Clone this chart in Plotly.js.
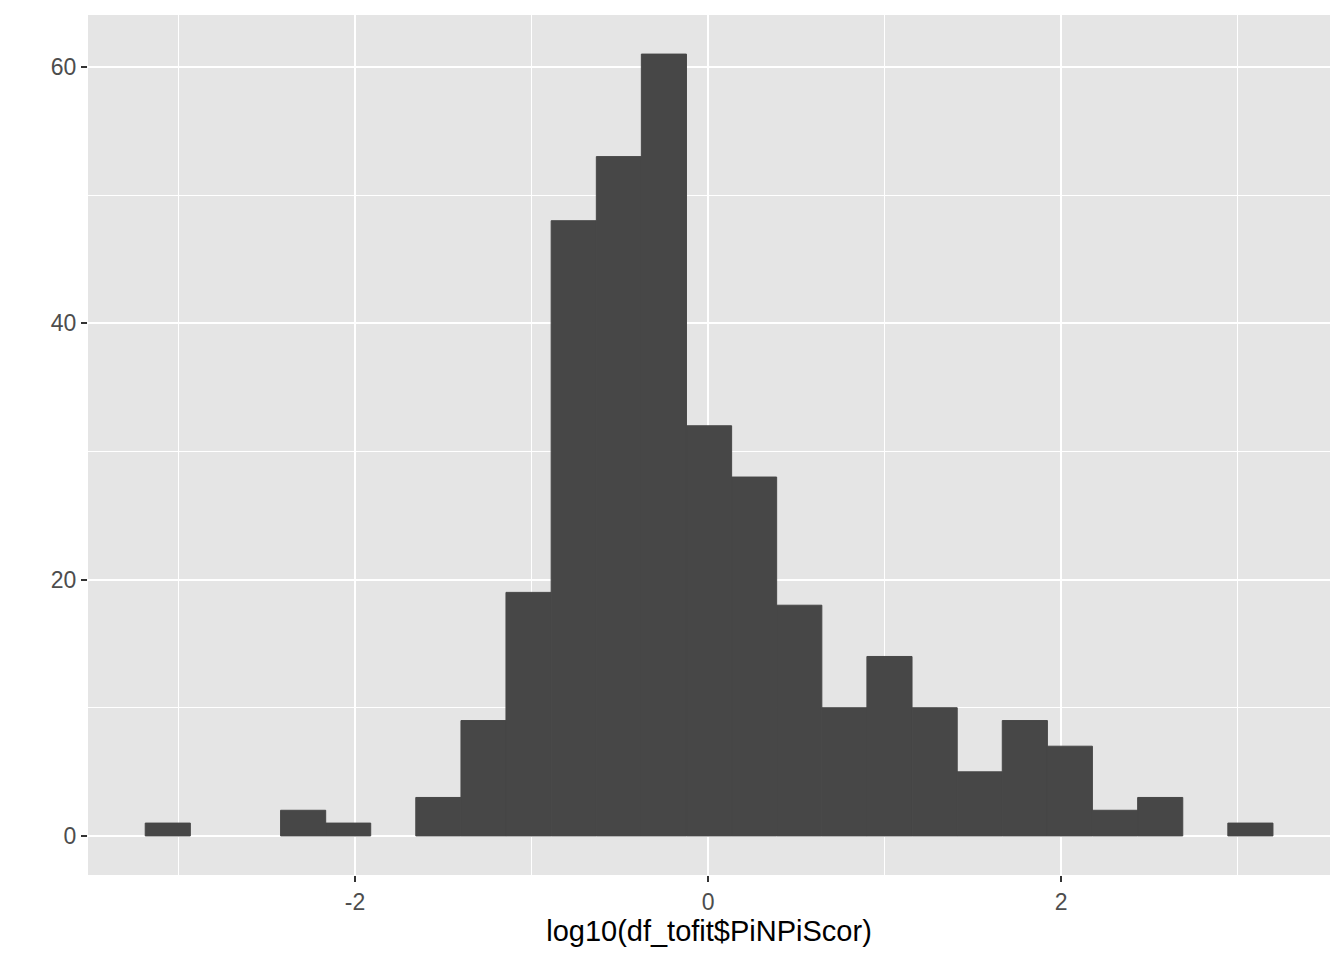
<!DOCTYPE html>
<html>
<head>
<meta charset="utf-8">
<script src="https://cdn.plot.ly/plotly-3.0.1.min.js"></script>
<style>html,body{margin:0;padding:0;background:#fff;}#chart{width:1344px;height:960px;}</style>
</head>
<body>
<div id="chart"></div>
<script>
const binCenters = [-3.061, -2.806, -2.550, -2.294, -2.039, -1.783, -1.528, -1.272, -1.017, -0.761,
  -0.505, -0.250, 0.006, 0.261, 0.517, 0.773, 1.028, 1.284, 1.539, 1.795,
  2.050, 2.306, 2.562, 2.817, 3.073];
const counts = [1, 0, 0, 2, 1, 0, 3, 9, 19, 48,
  53, 61, 32, 28, 18, 10, 14, 10, 5, 9,
  7, 2, 3, 0, 1];
const binWidth = 0.2556;
const xTickVals = [-2, 0, 2];
const xTickText = ['-2', '0', '2'];
const yTickVals = [0, 20, 40, 60];
const yTickText = ['0', '20', '40', '60'];
const xTitle = 'log10(df_tofit$PiNPiScor)';

const trace = {
  type: 'bar',
  x: binCenters,
  y: counts.map(c => (c === 0 ? null : c)),
  width: counts.map(() => binWidth),
  marker: {color: '#474747', line: {width: 1, color: '#474747'}},
  hoverinfo: 'x+y'
};

const layout = {
  width: 1344, height: 960,
  margin: {l: 88, r: 14, t: 15, b: 85, pad: 0},
  paper_bgcolor: '#ffffff',
  plot_bgcolor: '#e5e5e5',
  bargap: 0,
  showlegend: false,
  font: {family: 'Liberation Sans, Arial, sans-serif', color: '#4d4d4d', size: 23},
  xaxis: {
    range: [-3.513, 3.524],
    tickvals: xTickVals, ticktext: xTickText,
    ticks: 'outside', ticklen: 6, tickwidth: 2, tickcolor: '#333333',
    showgrid: true, gridcolor: '#ffffff', gridwidth: 2,
    minor: {dtick: 1, tick0: 1, showgrid: true, gridcolor: '#ffffff', gridwidth: 1, ticks: ''},
    zeroline: false, showline: false,
    tickfont: {size: 23, color: '#4d4d4d'},
    title: {text: xTitle, font: {size: 29, color: '#000000'}, standoff: 4}
  },
  yaxis: {
    range: [-3.05, 64.05],
    tickvals: yTickVals, ticktext: yTickText,
    ticks: 'outside', ticklen: 6, tickwidth: 2, tickcolor: '#333333',
    showgrid: true, gridcolor: '#ffffff', gridwidth: 2,
    minor: {dtick: 20, tick0: 10, showgrid: true, gridcolor: '#ffffff', gridwidth: 1, ticks: ''},
    zeroline: false, showline: false,
    tickfont: {size: 23, color: '#4d4d4d'}
  }
};

Plotly.newPlot('chart', [trace], layout, {displayModeBar: false, staticPlot: true});
</script>
</body>
</html>
